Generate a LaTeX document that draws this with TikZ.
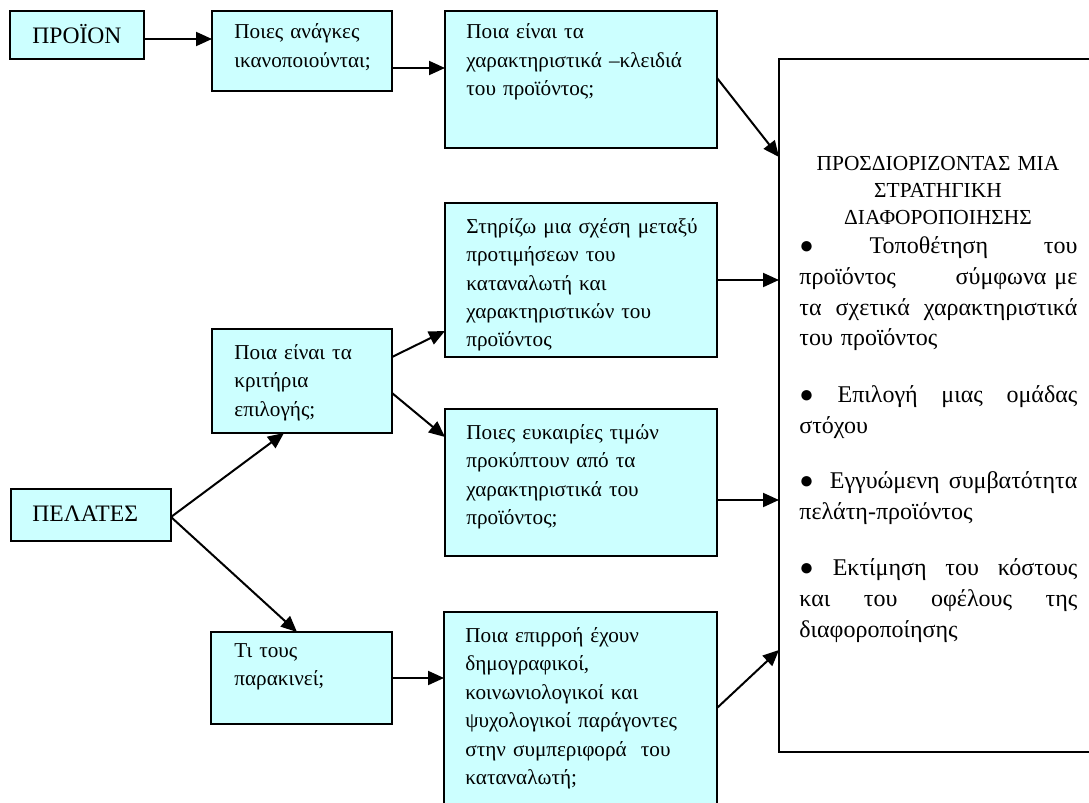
\documentclass[tikz,border=0pt]{standalone}
\usepackage{fontspec}
\setmainfont{Liberation Serif}
\usetikzlibrary{arrows.meta}
\definecolor{boxfill}{HTML}{CCFFFF}
\newcommand{\jgap}{\hspace{0.25em plus 1fil}}
\begin{document}
\begin{tikzpicture}[x=0.5pt,y=-0.5pt,
  box/.style={draw=black, line width=1pt, fill=boxfill, anchor=north west, inner sep=0pt, outer sep=0pt},
  bigbox/.style={draw=black, line width=1pt, fill=white, anchor=north west, inner sep=0pt, outer sep=0pt},
  txt/.style={anchor=base west, inner sep=0pt, align=left, text width=#1, font=\fontsize{10.6pt}{14.25pt}\selectfont},
  txt/.default=130pt,
  captxt/.style={anchor=base west, inner sep=0pt, font=\fontsize{11.8pt}{14.25pt}\selectfont},
  titletxt/.style={inner sep=0pt, text width=139pt, align=center, anchor=base, font=\fontsize{10.7pt}{13.5pt}\selectfont},
  bodytxt/.style={inner sep=0pt, text width=139pt, align=left, anchor=base west, font=\fontsize{12pt}{15.5pt}\selectfont},
  arr/.style={line width=1pt, -{Triangle[length=8pt,width=7pt]}}]
\useasboundingbox (0,0) rectangle (1089,803);
\clip (0,0) rectangle (1089,803);

% boxes
\node[box, minimum width=67pt, minimum height=24pt] (proion) at (10,11) {};
\node[box, minimum width=90pt, minimum height=40pt] (anagkes) at (212,11) {};
\node[box, minimum width=136pt, minimum height=68.5pt] (kleidia) at (445,11) {};
\node[bigbox, minimum width=200pt, minimum height=346.5pt] (big) at (779,59) {};
\node[box, minimum width=136pt, minimum height=77pt] (stirizo) at (445,203) {};
\node[box, minimum width=136pt, minimum height=73.5pt] (eukairies) at (445,409) {};
\node[box, minimum width=90pt, minimum height=52pt] (kritiria) at (212,329) {};
\node[box, minimum width=80pt, minimum height=26pt] (pelates) at (11,489) {};
\node[box, minimum width=90.5pt, minimum height=46pt] (titous) at (211,632) {};
\node[box, minimum width=136.5pt, minimum height=110pt] (epirroi) at (444,612) {};

% texts
\node[captxt] (tproion) at (32,43) {ΠΡΟΪΟΝ};
\node[txt] (tanagkes) at (234,39) {Ποιες ανάγκες\\ικανοποιούνται;};
\node[txt] (tkleidia) at (466,39) {Ποια είναι τα\\χαρακτηριστικά –κλειδιά\\του προϊόντος;};
\node[txt] (tstirizo) at (466,233) {Στηρίζω μια σχέση μεταξύ\\προτιμήσεων του\\καταναλωτή και\\χαρακτηριστικών του\\προϊόντος};
\node[txt] (teukairies) at (466,439) {Ποιες ευκαιρίες τιμών\\προκύπτουν από τα\\χαρακτηριστικά του\\προϊόντος;};
\node[txt] (tkritiria) at (234,359) {Ποια είναι τα\\κριτήρια\\επιλογής;};
\node[captxt] (tpelates) at (32,521) {ΠΕΛΑΤΕΣ};
\node[txt] (ttitous) at (234,657) {Τι τους\\παρακινεί;};
\node[txt] (tepirroi) at (465,642) {Ποια επιρροή έχουν\\δημογραφικοί,\\κοινωνιολογικοί και\\ψυχολογικοί παράγοντες\\στην συμπεριφορά\ \ του\\καταναλωτή;};

\node[titletxt] (ttitle) at (938,170) {ΠΡΟΣΔΙΟΡΙΖΟΝΤΑΣ ΜΙΑ\\ΣΤΡΑΤΗΓΙΚΗ\\ΔΙΑΦΟΡΟΠΟΙΗΣΗΣ};
\node[bodytxt] (tbody) at (799,253) {%
\makebox[139pt][s]{●\jgap Τοποθέτηση\jgap του}\\
\makebox[139pt][s]{προϊόντος\jgap σύμφωνα\ με}\\
\makebox[139pt][s]{τα\jgap σχετικά\jgap χαρακτηριστικά}\\
του προϊόντος\\[12.5pt]
\makebox[139pt][s]{●\jgap Επιλογή\jgap μιας\jgap ομάδας}\\
στόχου\\[12.5pt]
\makebox[139pt][s]{●\hspace{8pt}Εγγυώμενη\jgap συμβατότητα}\\
πελάτη-προϊόντος\\[12.5pt]
\makebox[139pt][s]{●\jgap Εκτίμηση\jgap του\jgap κόστους}\\
\makebox[139pt][s]{και\jgap του\jgap οφέλους\jgap της}\\
διαφοροποίησης};

% connectors
\draw[arr] (proion.east |- 0,39) -- (anagkes.west |- 0,39);
\draw[arr] (anagkes.east |- 0,68) -- (kleidia.west |- 0,68);
\draw[arr] (kleidia.east |- 0,78) -- (big.west |- 0,157);
\draw[arr] (stirizo.east |- 0,280) -- (big.west |- 0,280);
\draw[arr] (eukairies.east |- 0,500) -- (big.west |- 0,500);
\draw[arr] (kritiria.east |- 0,357) -- (stirizo.west |- 0,331);
\draw[arr] (kritiria.east |- 0,393) -- (eukairies.west |- 0,437);
\draw[arr] (pelates.east |- 0,517) -- (kritiria.south -| 284,0);
\draw[arr] (pelates.east |- 0,517) -- (titous.north -| 297,0);
\draw[arr] (titous.east |- 0,678) -- (epirroi.west |- 0,678);
\draw[arr] (epirroi.east |- 0,708) -- (big.west |- 0,650);
\end{tikzpicture}
\end{document}
